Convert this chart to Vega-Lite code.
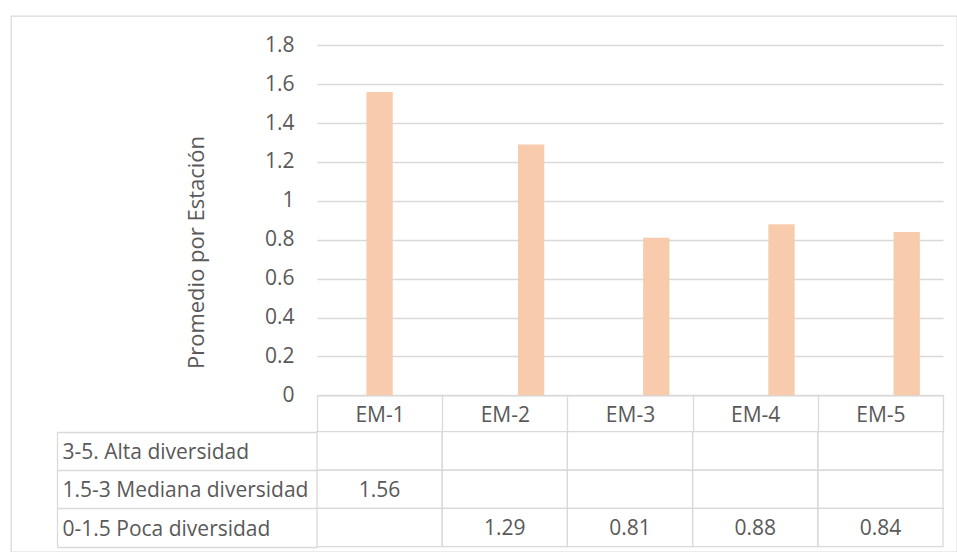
{
  "$schema": "https://vega.github.io/schema/vega-lite/v6.json",
  "width": 946,
  "height": 536,
  "autosize": {"type": "none"},
  "padding": {"left": 11, "top": 16, "right": 0, "bottom": 0},
  "background": "white",
  "config": {
    "font": "Open Sans",
    "view": {"stroke": "#d9d9d9", "strokeWidth": 1.3}
  },
  "data": {
    "values": [
      {"station": "EM-1", "serie": "3-5. Alta diversidad", "value": null},
      {"station": "EM-1", "serie": "1.5-3 Mediana diversidad", "value": 1.56},
      {"station": "EM-1", "serie": "0-1.5 Poca diversidad", "value": null},
      {"station": "EM-2", "serie": "3-5. Alta diversidad", "value": null},
      {"station": "EM-2", "serie": "1.5-3 Mediana diversidad", "value": null},
      {"station": "EM-2", "serie": "0-1.5 Poca diversidad", "value": 1.29},
      {"station": "EM-3", "serie": "3-5. Alta diversidad", "value": null},
      {"station": "EM-3", "serie": "1.5-3 Mediana diversidad", "value": null},
      {"station": "EM-3", "serie": "0-1.5 Poca diversidad", "value": 0.81},
      {"station": "EM-4", "serie": "3-5. Alta diversidad", "value": null},
      {"station": "EM-4", "serie": "1.5-3 Mediana diversidad", "value": null},
      {"station": "EM-4", "serie": "0-1.5 Poca diversidad", "value": 0.88},
      {"station": "EM-5", "serie": "3-5. Alta diversidad", "value": null},
      {"station": "EM-5", "serie": "1.5-3 Mediana diversidad", "value": null},
      {"station": "EM-5", "serie": "0-1.5 Poca diversidad", "value": 0.84}
    ]
  },
  "encoding": {
    "x": {
      "field": "station",
      "type": "nominal",
      "scale": {"range": [306, 932], "paddingInner": 0, "paddingOuter": 0},
      "axis": {
        "orient": "bottom",
        "offset": -156.7,
        "title": null,
        "grid": false,
        "domain": true,
        "domainColor": "#d9d9d9",
        "domainWidth": 1.3,
        "ticks": true,
        "tickBand": "extent",
        "tickSize": 36.4,
        "tickColor": "#d9d9d9",
        "tickWidth": 1.3,
        "labelAngle": 0,
        "labelBaseline": "middle",
        "labelPadding": -16,
        "labelFontSize": 21,
        "labelColor": "#595959"
      }
    }
  },
  "layer": [
    {
      "transform": [{"filter": "datum.value != null"}],
      "mark": {"type": "bar", "color": "#F8CBAD"},
      "encoding": {
        "xOffset": {
          "field": "serie",
          "type": "nominal",
          "scale": {
            "domain": ["3-5. Alta diversidad", "1.5-3 Mediana diversidad", "0-1.5 Poca diversidad"],
            "paddingInner": 0,
            "paddingOuter": 0.88
          }
        },
        "y": {
          "field": "value",
          "type": "quantitative",
          "scale": {"domain": [0, 1.8], "range": [379.3, 29.3], "nice": false},
          "axis": {
            "orient": "left",
            "offset": -306,
            "values": [0, 0.2, 0.4, 0.6, 0.8, 1, 1.2, 1.4, 1.6, 1.8],
            "format": "~g",
            "domain": false,
            "ticks": false,
            "grid": true,
            "gridColor": "#d9d9d9",
            "gridWidth": 1.3,
            "labelPadding": 23,
            "labelFontSize": 21,
            "labelColor": "#595959",
            "title": "Promedio por Estación",
            "titleFontSize": 22,
            "titleFontWeight": "normal",
            "titleColor": "#595959",
            "titleAngle": -90,
            "titleAlign": "center",
            "titleBaseline": "middle",
            "titleX": -121,
            "titleY": 236
          }
        }
      }
    },
    {
      "layer": [
        {
          "mark": {"type": "rect", "filled": false, "color": "#d9d9d9", "strokeWidth": 1.3},
          "encoding": {
            "y": {
              "field": "serie",
              "type": "nominal",
              "sort": null,
              "scale": {
                "domain": ["3-5. Alta diversidad", "1.5-3 Mediana diversidad", "0-1.5 Poca diversidad"],
                "range": [415.7, 530.7],
                "paddingInner": 0,
                "paddingOuter": 0
              },
              "axis": {
                "orient": "left",
                "offset": -306,
                "title": null,
                "grid": false,
                "domain": false,
                "ticks": true,
                "tickBand": "extent",
                "tickSize": 260,
                "tickColor": "#d9d9d9",
                "tickWidth": 1.3,
                "labelAlign": "left",
                "labelBaseline": "middle",
                "labelPadding": -5,
                "labelOffset": 1.5,
                "labelLimit": 400,
                "labelFontSize": 21,
                "labelColor": "#595959"
              }
            }
          }
        },
        {
          "transform": [{"filter": "datum.value != null"}],
          "mark": {"type": "text", "fontSize": 21, "color": "#595959", "align": "center", "baseline": "middle", "dy": 1.5},
          "encoding": {
            "y": {
              "field": "serie",
              "type": "nominal",
              "sort": null,
              "axis": {
                "orient": "left",
                "offset": -46,
                "title": null,
                "grid": false,
                "domain": true,
                "domainColor": "#d9d9d9",
                "domainWidth": 1.3,
                "ticks": false,
                "labels": false
              }
            },
            "text": {"field": "value", "type": "quantitative"}
          }
        }
      ],
      "resolve": {"axis": {"y": "independent"}}
    }
  ],
  "resolve": {"scale": {"y": "independent"}, "axis": {"y": "independent"}}
}
